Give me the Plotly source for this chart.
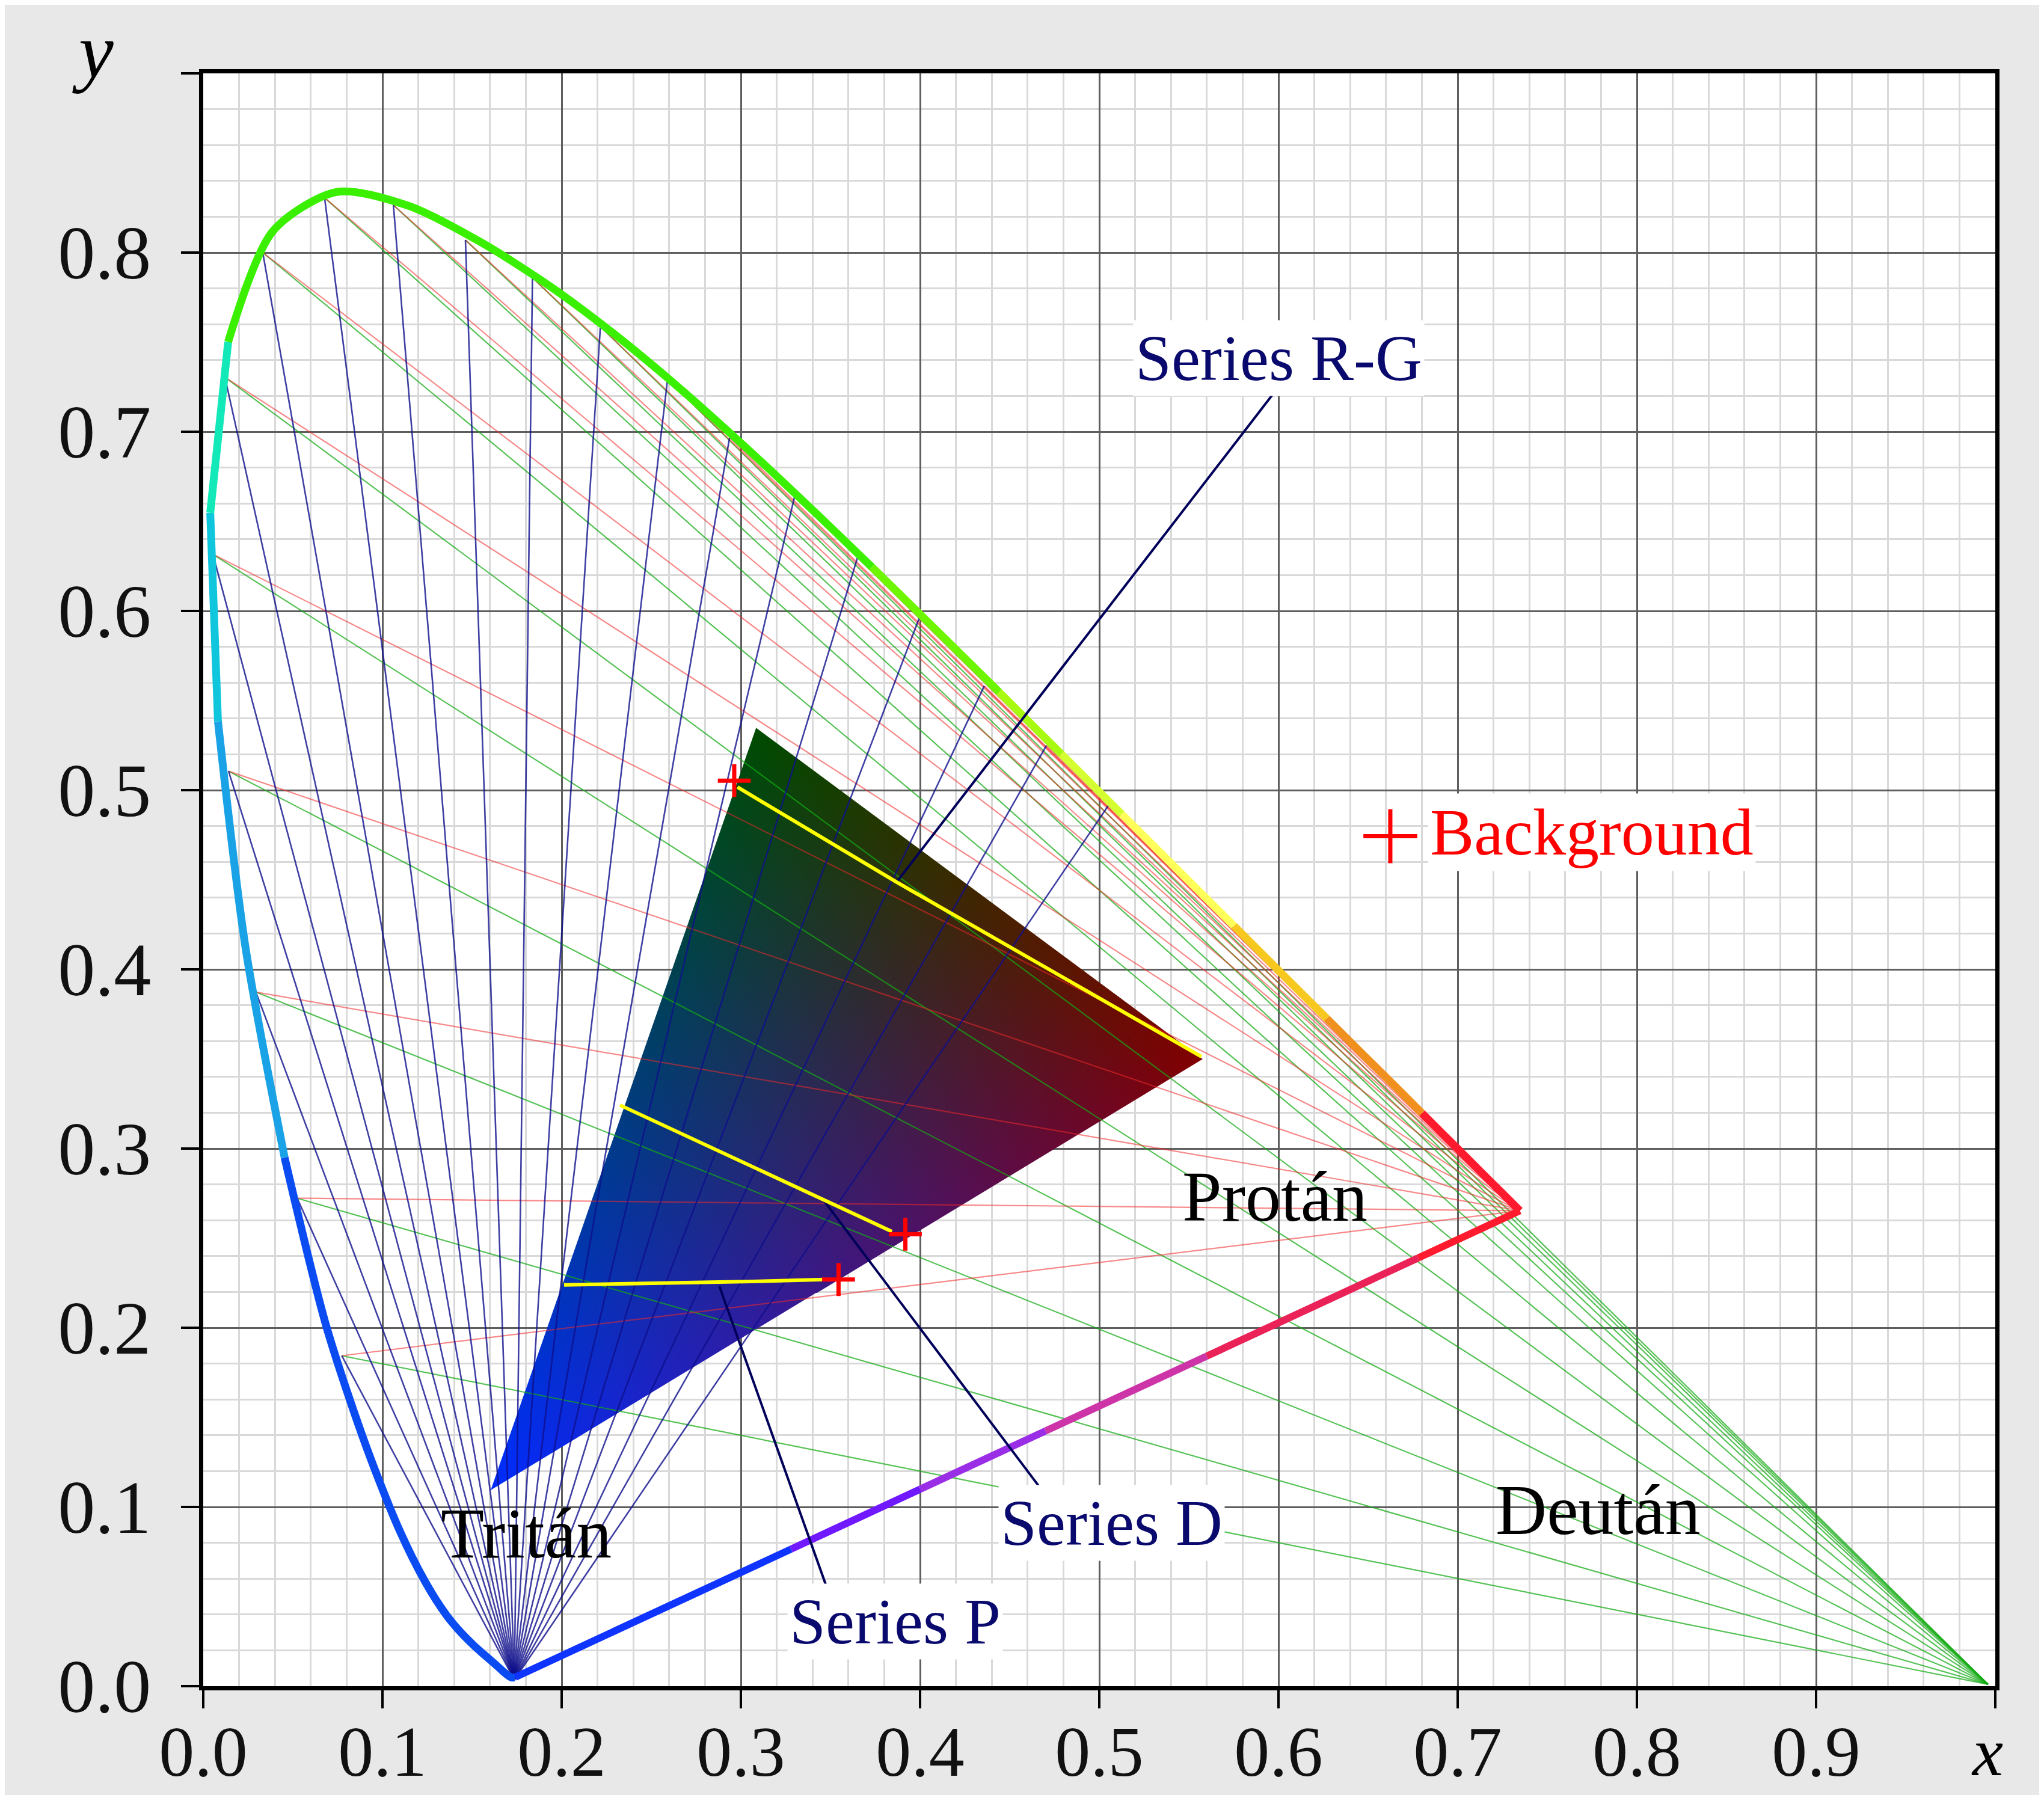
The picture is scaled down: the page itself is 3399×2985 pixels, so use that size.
import base64
import struct
import zlib

import numpy as np
import plotly.graph_objects as go

# ---------------- data ----------------
# CIE 1931 spectral locus, 5 nm steps
WAVELENGTHS = list(range(380, 705, 5))
LOCUS_X = [0.1741, 0.1740, 0.1738, 0.1736, 0.1733, 0.1730, 0.1726, 0.1721, 0.1714, 0.1703,
           0.1689, 0.1669, 0.1644, 0.1611, 0.1566, 0.1510, 0.1440, 0.1355, 0.1241, 0.1096,
           0.0913, 0.0687, 0.0454, 0.0235, 0.0082, 0.0039, 0.0139, 0.0389, 0.0743, 0.1142,
           0.1547, 0.1929, 0.2296, 0.2658, 0.3016, 0.3373, 0.3731, 0.4087, 0.4441, 0.4788,
           0.5125, 0.5448, 0.5752, 0.6029, 0.6270, 0.6482, 0.6658, 0.6801, 0.6915, 0.7006,
           0.7079, 0.7140, 0.7190, 0.7230, 0.7260, 0.7283, 0.7300, 0.7311, 0.7320, 0.7327,
           0.7334, 0.7340, 0.7344, 0.7346, 0.7347]
LOCUS_Y = [0.0050, 0.0050, 0.0049, 0.0049, 0.0048, 0.0048, 0.0048, 0.0048, 0.0051, 0.0058,
           0.0069, 0.0086, 0.0109, 0.0138, 0.0177, 0.0227, 0.0297, 0.0399, 0.0578, 0.0868,
           0.1327, 0.2007, 0.2950, 0.4127, 0.5384, 0.6548, 0.7502, 0.8120, 0.8338, 0.8262,
           0.8059, 0.7816, 0.7543, 0.7243, 0.6923, 0.6589, 0.6245, 0.5896, 0.5547, 0.5202,
           0.4866, 0.4544, 0.4242, 0.3965, 0.3725, 0.3514, 0.3340, 0.3197, 0.3083, 0.2993,
           0.2920, 0.2859, 0.2809, 0.2770, 0.2740, 0.2717, 0.2700, 0.2689, 0.2680, 0.2673,
           0.2666, 0.2660, 0.2656, 0.2654, 0.2653]

# copunctal (convergence) points
PROTAN_PT = (0.7347, 0.2653)
DEUTAN_PT = (0.996, 0.001)
TRITAN_PT = (0.1736, 0.0035)

# points on the locus where the confusion lines end
CONF_X = [0.0773, 0.0524, 0.0294, 0.0141, 0.0054, 0.0121, 0.0332, 0.0677, 0.1061, 0.1463,
          0.1837, 0.2216, 0.2591, 0.2937, 0.3304, 0.3651, 0.3997, 0.4358, 0.4705, 0.5052]
CONF_Y = [0.1844, 0.2723, 0.3873, 0.5106, 0.6316, 0.7304, 0.8000, 0.8306, 0.8265, 0.8070,
          0.7860, 0.7587, 0.7293, 0.6967, 0.6656, 0.6298, 0.5965, 0.5581, 0.5249, 0.4916]
N_DEUTAN_LINES = 13   # deutan lines start from the first 13 locus points

# display gamut triangle: G, R, B vertices
TRI_X = [0.3085, 0.5577, 0.1604]
TRI_Y = [0.5347, 0.3500, 0.1093]

# test series (yellow paths)
SERIES_RG_X = [0.2981, 0.3869, 0.5570]
SERIES_RG_Y = [0.5017, 0.4487, 0.3513]
SERIES_D_X = [0.2326, 0.3459, 0.3843]
SERIES_D_Y = [0.3242, 0.2715, 0.2537]
SERIES_P_X = [0.2013, 0.2537, 0.3061, 0.3468]
SERIES_P_Y = [0.2239, 0.2246, 0.2258, 0.2269]

# red crosses (series start points) and background
CROSS_X = [0.2963, 0.3918, 0.3545]
CROSS_Y = [0.5053, 0.2522, 0.2269]
BACKGROUND_X = [0.6624]
BACKGROUND_Y = [0.4743]

# leader lines (label -> series)
LEADER_X = [0.5967, 0.3869, None, 0.4690, 0.3459, None, 0.3479, 0.2880]
LEADER_Y = [0.7207, 0.4487, None, 0.1080, 0.2715, None, 0.0552, 0.2232]

X_TICKS = [0.0, 0.1, 0.2, 0.3, 0.4, 0.5, 0.6, 0.7, 0.8, 0.9, 1.0]
X_TICKTEXT = ["0.0", "0.1", "0.2", "0.3", "0.4", "0.5", "0.6", "0.7", "0.8", "0.9", ""]
Y_TICKS = [0.0, 0.1, 0.2, 0.3, 0.4, 0.5, 0.6, 0.7, 0.8, 0.9]
Y_TICKTEXT = ["0.0", "0.1", "0.2", "0.3", "0.4", "0.5", "0.6", "0.7", "0.8", ""]

# ---------------- styles ----------------
LOCUS_BANDS = [(380, 490, '#0a4cf2'), (490, 500, '#1aa2e6'), (500, 505, '#0fc6dc'),
               (505, 510, '#12e8b8'), (510, 560, '#3af000'), (560, 570, '#6ef500'),
               (570, 575, '#a8fa10'), (575, 580, '#d4ff30'), (580, 590, '#ffff5a'),
               (590, 600, '#f6c820'), (600, 615, '#f0901e'), (615, 700, '#ff1a2e')]
PURPLE_BANDS = [(0.7347, 0.678, '#ff1a2e'), (0.678, 0.56, '#ea2258'), (0.56, 0.47, '#cc34a8'),
                (0.47, 0.40, '#9a2ee6'), (0.40, 0.328, '#7018ff'), (0.328, 0.1741, '#1034ff')]
TRI_RGB = [(0, 76, 0), (130, 0, 0), (0, 45, 255)]
FONT = "Liberation Serif"

W_FIG, H_FIG = 3399, 2985
M_L, M_R, M_T, M_B = 330, 89, 113, 188
X_RANGE = [0.0, 1.0]
Y_RANGE = [0.0, 0.9]
SX = (W_FIG - M_L - M_R) / (X_RANGE[1] - X_RANGE[0])
SY = (H_FIG - M_T - M_B) / (Y_RANGE[1] - Y_RANGE[0])


def png_uri(arr):
    h, w, _ = arr.shape
    raw = b''.join(b'\x00' + arr[i].tobytes() for i in range(h))

    def chunk(tag, data):
        c = struct.pack('>I', len(data)) + tag + data
        return c + struct.pack('>I', zlib.crc32(tag + data) & 0xffffffff)

    ihdr = struct.pack('>IIBBBBB', w, h, 8, 6, 0, 0, 0)
    png = (b'\x89PNG\r\n\x1a\n' + chunk(b'IHDR', ihdr) +
           chunk(b'IDAT', zlib.compress(raw, 9)) + chunk(b'IEND', b''))
    return 'data:image/png;base64,' + base64.b64encode(png).decode()


def triangle_trace():
    pad = 3.0 / SX
    x0, x1 = min(TRI_X) - pad, max(TRI_X) + pad
    y0, y1 = min(TRI_Y) - pad, max(TRI_Y) + pad
    W = int(np.ceil((x1 - x0) * SX))
    H = int(np.ceil((y1 - y0) * SY))
    # row 0 = lowest y (image rows increase with y on a normal axis)
    px, py = np.meshgrid(np.arange(W) + 0.5, np.arange(H) + 0.5)
    vx = [(x - x0) * SX for x in TRI_X]
    vy = [(y - y0) * SY for y in TRI_Y]
    (ax, bx, cx), (ay, by, cy) = vx, vy
    den = (by - cy) * (ax - cx) + (cx - bx) * (ay - cy)
    l1 = ((by - cy) * (px - cx) + (cx - bx) * (py - cy)) / den
    l2 = ((cy - ay) * (px - cx) + (ax - cx) * (py - cy)) / den
    l3 = 1.0 - l1 - l2
    edge = lambda p, q: np.hypot(p[0] - q[0], p[1] - q[1])
    h1 = abs(den) / edge((bx, by), (cx, cy))
    h2 = abs(den) / edge((ax, ay), (cx, cy))
    h3 = abs(den) / edge((ax, ay), (bx, by))
    d = np.minimum(np.minimum(l1 * h1, l2 * h2), l3 * h3)
    alpha = np.clip(d + 0.5, 0, 1)
    L = np.stack([np.clip(l1, 0, 1), np.clip(l2, 0, 1), np.clip(l3, 0, 1)], axis=-1)
    L = L / np.maximum(L.sum(axis=-1, keepdims=True), 1e-9)
    rgb = L @ np.array(TRI_RGB, dtype=float)
    arr = np.zeros((H, W, 4), dtype=np.uint8)
    arr[..., :3] = np.clip(rgb, 0, 255).astype(np.uint8)
    arr[..., 3] = (alpha * 255).astype(np.uint8)
    return go.Image(source=png_uri(arr), x0=x0 + 0.5 / SX, y0=y0 + 0.5 / SY,
                    dx=1.0 / SX, dy=1.0 / SY, hoverinfo='skip')


def fan(pt, xs, ys):
    fx, fy = [], []
    for x, y in zip(xs, ys):
        fx += [x, pt[0], None]
        fy += [y, pt[1], None]
    return fx, fy


fig = go.Figure()
fig.add_trace(triangle_trace())

# confusion lines
for pt, xs, ys, col, wd in [
        (DEUTAN_PT, CONF_X[:N_DEUTAN_LINES], CONF_Y[:N_DEUTAN_LINES], 'rgba(20,170,20,0.72)', 2.2),
        (PROTAN_PT, CONF_X, CONF_Y, 'rgba(240,40,40,0.55)', 2.2),
        (TRITAN_PT, CONF_X, CONF_Y, 'rgba(15,15,140,0.80)', 2.6)]:
    fx, fy = fan(pt, xs, ys)
    fig.add_trace(go.Scatter(x=fx, y=fy, mode='lines', line=dict(color=col, width=wd),
                             hoverinfo='skip', showlegend=False))

# spectral locus, coloured by wavelength band
for w0, w1, col in LOCUS_BANDS:
    i0, i1 = WAVELENGTHS.index(w0), WAVELENGTHS.index(w1)
    fig.add_trace(go.Scatter(x=LOCUS_X[i0:i1 + 1], y=LOCUS_Y[i0:i1 + 1], mode='lines',
                             line=dict(color=col, width=13, shape='spline', smoothing=0.8),
                             hoverinfo='skip', showlegend=False))

# purple line (700 nm -> 380 nm)
px0, py0 = LOCUS_X[-1], LOCUS_Y[-1]
px1, py1 = LOCUS_X[0], LOCUS_Y[0]
for xa, xb, col in PURPLE_BANDS:
    ya = py0 + (xa - px0) * (py1 - py0) / (px1 - px0)
    yb = py0 + (xb - px0) * (py1 - py0) / (px1 - px0)
    fig.add_trace(go.Scatter(x=[xa, xb], y=[ya, yb], mode='lines',
                             line=dict(color=col, width=12), hoverinfo='skip', showlegend=False))

# leader lines
fig.add_trace(go.Scatter(x=LEADER_X, y=LEADER_Y, mode='lines',
                         line=dict(color='#00005a', width=4), hoverinfo='skip', showlegend=False))

# yellow series paths
for sx, sy in [(SERIES_RG_X, SERIES_RG_Y), (SERIES_D_X, SERIES_D_Y), (SERIES_P_X, SERIES_P_Y)]:
    fig.add_trace(go.Scatter(x=sx, y=sy, mode='lines', line=dict(color='#ffff00', width=6),
                             hoverinfo='skip', showlegend=False))

# red crosses
fig.add_trace(go.Scatter(x=CROSS_X, y=CROSS_Y, mode='markers',
                         marker=dict(symbol='cross-thin', size=39, line=dict(color='#ff0000', width=7)),
                         hoverinfo='skip', showlegend=False))
fig.add_trace(go.Scatter(x=BACKGROUND_X, y=BACKGROUND_Y, mode='markers',
                         marker=dict(symbol='cross-thin', size=64, line=dict(color='#ff0000', width=7)),
                         hoverinfo='skip', showlegend=False))

# labels
LABELS = [
    ("Series R-G", 0.600, 0.741, '#0a0a6e', 108, 'center', True),
    ("Background", 0.6833, 0.4766, '#ff0000', 110, 'left', True),
    ("Protán", 0.598, 0.2729, '#000000', 118, 'center', False),
    ("Deután", 0.7785, 0.098, '#000000', 118, 'center', False),
    ("Tritán", 0.1803, 0.085, '#000000', 118, 'center', False),
    ("Series D", 0.507, 0.091, '#0a0a6e', 108, 'center', True),
    ("Series P", 0.386, 0.036, '#0a0a6e', 108, 'center', True),
]
annotations = []
for txt, x, y, col, sz, anc, box in LABELS:
    annotations.append(dict(text=txt, x=x, y=y, xref='x', yref='y', showarrow=False,
                            xanchor=anc, yanchor='middle',
                            font=dict(family=FONT, size=sz, color=col),
                            bgcolor='white' if box else None, borderpad=3))
annotations.append(dict(text='<i>y</i>', x=(146 - M_L) / (W_FIG - M_L - M_R),
                        y=(H_FIG - M_B - 76) / (H_FIG - M_T - M_B), xref='paper', yref='paper',
                        showarrow=False, xanchor='center', yanchor='middle',
                        font=dict(family=FONT, size=130, color='black')))
annotations.append(dict(text='<i>x</i>', x=(3296 - M_L) / (W_FIG - M_L - M_R),
                        y=-(2905 - (H_FIG - M_B)) / (H_FIG - M_T - M_B), xref='paper', yref='paper',
                        showarrow=False, xanchor='center', yanchor='middle',
                        font=dict(family=FONT, size=115, color='black')))

axis_common = dict(showline=True, linewidth=7, linecolor='black', mirror=True,
                   ticks='outside', ticklen=30, tickwidth=4, tickcolor='black',
                   showgrid=True, gridcolor='#5e5e5e', gridwidth=3, zeroline=False,
                   automargin=False,
                   minor=dict(dtick=0.02, tick0=0, showgrid=True, gridcolor='#d9d9d9',
                              gridwidth=3, ticks=''))

fig.update_layout(
    width=W_FIG, height=H_FIG,
    margin=dict(l=M_L, r=M_R, t=M_T, b=M_B, autoexpand=False),
    paper_bgcolor='#e8e8e8', plot_bgcolor='white',
    showlegend=False,
    xaxis=dict(range=X_RANGE, tickvals=X_TICKS, ticktext=X_TICKTEXT,
               ticklabelstandoff=-30,
               tickfont=dict(family=FONT, size=118, color='#111111'), **axis_common),
    yaxis=dict(range=Y_RANGE, tickvals=Y_TICKS, ticktext=Y_TICKTEXT,
               ticklabelstandoff=25,
               tickfont=dict(family=FONT, size=124, color='#111111'), **axis_common),
    annotations=annotations,
)

fig.write_html("out.html")
